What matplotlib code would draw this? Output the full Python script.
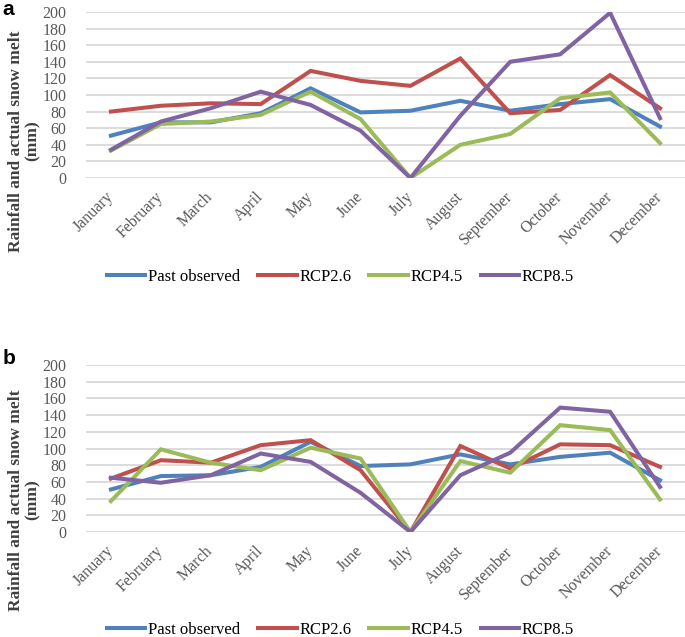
import matplotlib
matplotlib.use("Agg")
import matplotlib.pyplot as plt

months = ["January", "February", "March", "April", "May", "June", "July",
          "August", "September", "October", "November", "December"]
series_names = ["Past observed", "RCP2.6", "RCP4.5", "RCP8.5"]

# panel a
past_a = [51, 67, 67, 78, 108, 79, 81, 93, 81, 89, 95, 62]
rcp26_a = [80, 87, 90, 89, 129, 117, 111, 144, 78, 82, 124, 84]
rcp45_a = [33, 65, 68, 76, 104, 71, 0, 40, 53, 96, 103, 42]
rcp85_a = [34, 68, 84, 104, 88, 57, 0, 75, 140, 149, 199, 72]

# panel b
past_b = [51, 67, 68, 78, 108, 79, 81, 93, 81, 90, 95, 62]
rcp26_b = [64, 86, 83, 104, 110, 74, 0, 103, 76, 105, 104, 78]
rcp45_b = [37, 99, 83, 74, 101, 88, 0, 85, 71, 128, 122, 39]
rcp85_b = [65, 59, 68, 94, 84, 47, 0, 68, 95, 149, 144, 54]

colors = ["#4F81BD", "#C0504D", "#9BBB59", "#8064A2"]
yticks = list(range(0, 201, 20))

plt.rcParams["font.family"] = ["Liberation Serif", "DejaVu Serif"]

fig = plt.figure(figsize=(6.85, 6.37), dpi=100)


def draw_panel(rect, data, letter, letter_y, label_y, legend_y):
    ax = fig.add_axes(rect)
    x = range(len(months))
    for vals, name, c in zip(data, series_names, colors):
        ax.plot(x, vals, color=c, lw=2.9, label=name, solid_joinstyle="miter",
                zorder=3)
    ax.set_xlim(-0.5, len(months) - 0.5)
    ax.set_ylim(0, 200)
    ax.set_yticks(yticks)
    ax.set_xticks(list(x))
    ax.set_xticklabels(months, rotation=45, ha="right", va="center",
                       rotation_mode="anchor")
    ax.tick_params(axis="both", length=0, labelsize=11.5, labelcolor="#595959")
    ax.tick_params(axis="x", pad=12)
    ax.tick_params(axis="y", pad=14)
    ax.grid(axis="y", color="#D9D9D9", lw=1.3, zorder=0)
    for s in ax.spines.values():
        s.set_visible(False)
    ax.set_axisbelow(True)

    fig.text(0.035, label_y, "Rainfall and actual snow melt\n(mm)",
             rotation=90, ha="center", va="center", multialignment="center",
             fontsize=12.5, fontweight="bold", color="#404040", linespacing=1.05)
    fig.text(0.004, letter_y, letter, ha="left", va="top", fontsize=15,
             fontweight="bold", family=["Liberation Sans", "DejaVu Sans"])
    fig.legend(*ax.get_legend_handles_labels(), loc="center",
               bbox_to_anchor=(0.497, legend_y), ncol=4, frameon=False,
               fontsize=12, handlelength=2.3, handletextpad=0.15,
               columnspacing=1.1)
    return ax


draw_panel([0.1255, 0.7206, 0.8745, 0.2606],
           [past_a, rcp26_a, rcp45_a, rcp85_a], "a", 1.0, 0.779, 0.565)
draw_panel([0.1255, 0.1648, 0.8745, 0.2622],
           [past_b, rcp26_b, rcp45_b, rcp85_b], "b", 0.452, 0.215, 0.011)

fig.savefig("out.png", dpi=100)
